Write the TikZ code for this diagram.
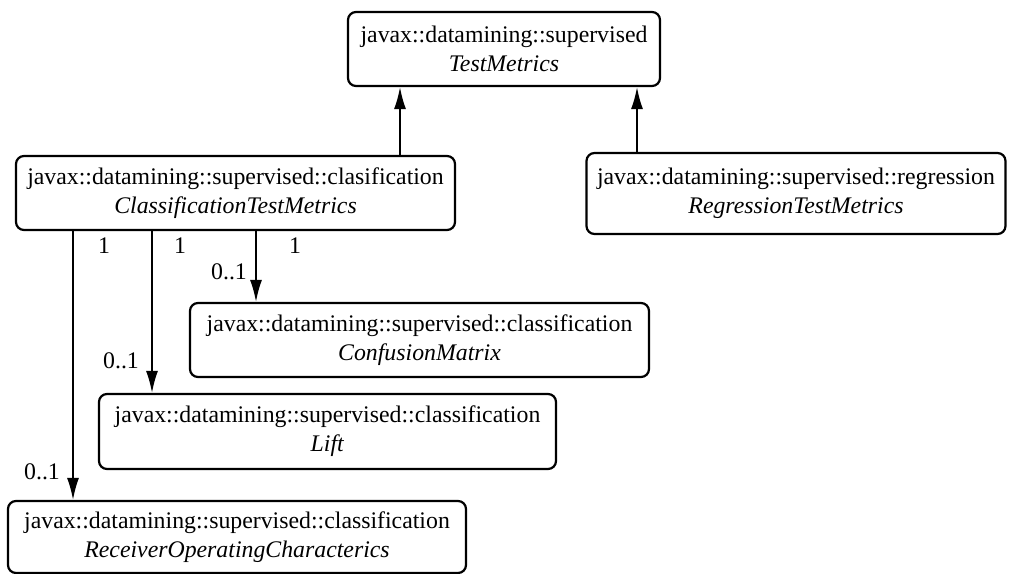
\documentclass[tikz,border=0pt]{standalone}
\usepackage{fontspec}
\setmainfont{Liberation Serif}
\usetikzlibrary{arrows.meta}
\begin{document}
\begin{tikzpicture}[x=1pt,y=-1pt,
  cls/.style={draw, line width=2.2pt, rounded corners=8pt, inner sep=0pt, align=center,
    font=\fontsize{23.8}{29}\selectfont},
  arr/.style={line width=1.7pt, -{Latex[length=22pt,width=12pt]}},
  lbl/.style={inner sep=0pt, font=\fontsize{23.8}{29}\selectfont}]
\useasboundingbox (0,0) rectangle (1009,573);
\node[cls, minimum width=312pt, minimum height=74pt] (tm) at (504,49)
  {javax::datamining::supervised\\\textit{TestMetrics}};
\node[cls, minimum width=439pt, minimum height=74pt] (ctm) at (235.5,193)
  {javax::datamining::supervised::clasification\\\textit{ClassificationTestMetrics}};
\node[cls, minimum width=419pt, minimum height=81pt] (rtm) at (796,193.5)
  {javax::datamining::supervised::regression\\\textit{RegressionTestMetrics}};
\node[cls, minimum width=459pt, minimum height=74pt] (cm) at (419.5,340)
  {javax::datamining::supervised::classification\\\textit{ConfusionMatrix}};
\node[cls, minimum width=457pt, minimum height=75pt] (lift) at (327.5,431.5)
  {javax::datamining::supervised::classification\\\textit{Lift}};
\node[cls, minimum width=458pt, minimum height=72pt] (roc) at (237,537)
  {javax::datamining::supervised::classification\\\textit{ReceiverOperatingCharacterics}};
\coordinate (xa) at (400,0);
\coordinate (xb) at (637,0);
\coordinate (xc) at (73,0);
\coordinate (xd) at (152,0);
\coordinate (xe) at (256,0);
\draw[arr] (ctm.north -| xa) -- (tm.south -| xa);
\draw[arr] (rtm.north -| xb) -- (tm.south -| xb);
\draw[arr] (ctm.south -| xe) -- (cm.north -| xe);
\draw[arr] (ctm.south -| xd) -- (lift.north -| xd);
\draw[arr] (ctm.south -| xc) -- (roc.north -| xc);
\node[lbl] (m1) at (104,246) {1};
\node[lbl] (m2) at (180,246) {1};
\node[lbl] (m3) at (295,246) {1};
\node[lbl] (m4) at (229,272) {0..1};
\node[lbl] (m5) at (121,361) {0..1};
\node[lbl] (m6) at (42,472) {0..1};
\end{tikzpicture}
\end{document}
